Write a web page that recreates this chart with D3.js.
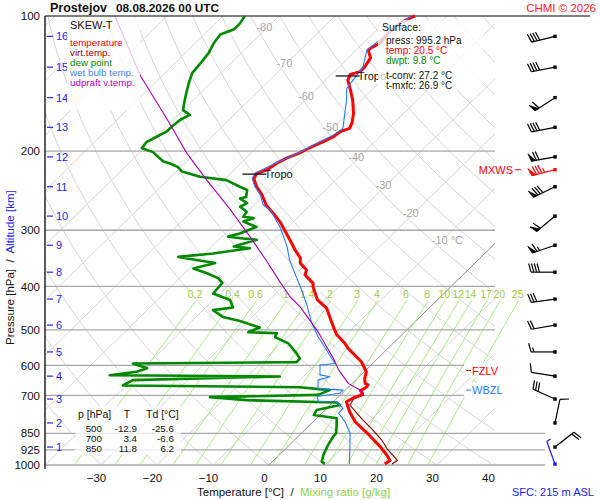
<!DOCTYPE html>
<html lang="en">
<head>
<meta charset="UTF-8">
<title>SKEW-T Prostejov</title>
<script src="https://d3js.org/d3.v7.min.js"></script>
<style>
  body { margin: 0; background: #fff; }
  svg { font-family: "Liberation Sans", Arial, sans-serif; }
  .iso { fill: none; stroke: #d6d6d6; stroke-width: 1; }
  .mix { fill: none; stroke: #a8ee80; stroke-width: 1; }
  .plev { stroke: #a8a8a8; stroke-width: 1.3; }
  .curve { fill: none; stroke-linejoin: round; }
  .pre { white-space: pre; }
</style>
</head>
<body>
<svg width="600" height="500"></svg>
<script>
// ---- data ----
const station = "Prostejov";
const dateLabel = "08.08.2026 00 UTC";

const pressureTicks = [100, 200, 300, 400, 500, 600, 700, 850, 925, 1000];
const tempTicks = [-30, -20, -10, 0, 10, 20, 30, 40];
const kmTicks = [1, 2, 3, 4, 5, 6, 7, 8, 9, 10, 11, 12, 13, 14, 15, 16];
const kmPressure = [912, 806, 713, 634, 560, 488, 427, 372, 324, 279, 240, 206, 177, 152, 130, 111];
const isothermLabels = [-80, -70, -60, -50, -40, -30, -20, -10];
const isothermLabelP = [106, 127, 151, 177, 206, 238, 275, 315];
const mixingRatios = [0.2, 0.4, 0.6, 1, 1.4, 2, 3, 4, 6, 8, 10, 12, 14, 17, 20, 25];

// [pressure hPa, value °C]
const temperature = [[995.2, 20.5], [977, 20.8], [950, 19.2], [910, 16.5], [850, 11.8], [801, 7.5], [761, 4.7],
  [723, 2.3], [710, 2.8], [698, 3.8], [690, 3.4], [683, 2.8], [672, 3.2], [663, 3.1], [658, 2.3], [641, 1.3],
  [620, 0.4], [589, -2.3], [550, -7.1], [536, -8.6], [513, -11.6], [500, -12.9], [480, -14.9], [448, -18.2],
  [429, -21.4], [401, -24.6], [394, -25.2], [377, -28.2], [368, -28.8], [355, -31.2], [346, -32.1], [332, -34.5],
  [321, -36.3], [302, -39.6], [287, -42.4], [275, -45.1], [264, -47.8], [250, -50.5], [240, -52.9], [230, -54.9],
  [224, -55.3], [220, -54.1], [213, -53.6], [207, -52.7], [202, -51.4], [197, -50.6], [192, -49.5], [189, -48.9],
  [186, -48.3], [181, -48.0], [178, -46.9], [173, -47.5], [165, -48.9], [154, -51.5], [146, -53.8], [139, -56.0],
  [135, -56.6], [133, -55.4], [130, -55.4], [124, -56.0], [119, -57.9], [117, -57.6], [115, -57.0], [112, -57.3],
  [108, -57.3], [104, -57.1], [101, -56.2], [100, -55.7]];

const virtTemp = [[995.2, 21.8], [977, 22.1], [918, 18.0], [880, 15.6], [836, 12.2], [794, 8.6], [766, 6.2],
  [735, 3.5], [713, 3.1], [698, 4.1], [690, 3.6], [683, 3.0]];

const dewPoint = [[995.2, 9.8], [983, 8.8], [950, 7.9], [903, 6.9], [865, 6.3], [850, 6.2], [822, 5.1], [787, 3.6],
  [781, 1.5], [774, -1.1], [754, -1.5], [735, 1.7], [726, 0.7], [717, -15.8], [706, -22.9], [698, -4.0],
  [681, -2.8], [671, -8.7], [665, -40.6], [647, -39.8], [635, -14.2], [631, -44.8], [620, -40.6], [609, -39.4],
  [594, -42.8], [590, -13.8], [579, -13.9], [564, -15.4], [536, -18.7], [519, -22.2], [509, -22.6], [506, -27.9],
  [494, -26.7], [478, -31.4], [468, -35.2], [452, -38.2], [446, -35.1], [429, -37.0], [415, -41.2], [393, -41.5],
  [384, -43.0], [374, -46.0], [365, -49.3], [355, -46.4], [344, -54.1], [338, -48.5], [329, -42.9], [326, -46.1],
  [315, -43.2], [313, -45.9], [310, -48.9], [305, -47.4], [295, -45.6], [287, -48.9], [282, -47.7], [280, -49.8],
  [273, -50.1], [266, -52.2], [261, -51.6], [255, -53.7], [253, -52.9], [244, -54.0], [240, -55.9], [232, -59.5],
  [228, -64.8], [222, -69.0], [217, -70.5], [213, -72.6], [211, -74.1], [206, -75.9], [201, -77.7], [197, -80.4],
  [191, -80.7], [186, -79.9], [181, -79.0], [176, -79.0], [170, -78.7], [166, -77.9], [162, -80.0], [154, -81.5],
  [148, -82.6], [141, -83.9], [134, -85.1], [126, -85.5], [121, -85.8], [115, -86.7], [110, -87.1], [107, -85.6],
  [104, -85.6], [100, -86.1]];

const wetBulb = [[995.2, 14.2], [910, 11.1], [850, 8.7], [801, 5.7], [767, 3.0], [748, 2.9], [723, 0.5], [722, -2.7],
  [704, -3.9], [692, -0.4], [681, -0.4], [675, -5.2], [647, -6.7], [636, -5.2], [630, -7.3], [599, -9.1],
  [594, -6.7], [579, -8.2], [555, -10.6], [518, -14.6], [480, -18.5], [440, -22.4], [408, -26.0], [381, -29.4],
  [350, -33.6], [326, -36.6], [310, -39.0], [295, -41.4], [270, -46.3], [264, -48.3], [250, -50.8], [240, -53.2],
  [230, -55.2], [224, -55.6], [213, -53.9], [202, -51.6], [192, -50.1], [184, -48.6], [178, -48.1], [168, -49.9],
  [154, -52.6], [145, -54.7], [130, -55.7], [119, -58.1], [100, -56.4]];

const updraft = [[695, 4.0], [681, 2.6], [658, -0.7], [614, -4.9], [579, -7.9], [500, -16.1], [444, -23.3],
  [422, -26.9], [391, -31.4], [350, -37.8], [310, -45.0], [270, -53.4], [232, -63.0], [202, -71.5], [170, -81.1],
  [136, -93.8], [100, -109.3]];

const tropoP = [225, 136];
const fzlvP = 616, wbzlP = 681, mxwsP = 220;

// winds: direction (deg), speed (kt) at surface, 1..16 km
const windP = [995.2, 912, 806, 713, 634, 560, 488, 427, 372, 324, 279, 240, 206, 177, 152, 130, 111];
const windDir = [340, 52, 12, 294, 279, 270, 260, 262, 270, 251, 230, 244, 260, 259, 237, 259, 256];
const windSpd = [5, 20, 10, 30, 10, 15, 20, 30, 40, 65, 60, 80, 70, 40, 60, 40, 40];
const mxwsDir = 256, mxwsSpd = 85;

const surfaceInfo = ["press: 995.2 hPa", "temp: 20.5 °C", "dwpt: 9.8 °C", "t-conv: 27.2 °C", "t-mxfc: 26.9 °C"];
const tableP = [500, 700, 850];
const tableT = [-12.9, 3.4, 11.8];
const tableTd = [-25.6, -6.6, 6.2];

// ---- scales ----
const svg = d3.select("svg");
svg.append("rect").attr("width", 600).attr("height", 500).attr("fill", "#fff");

const y = d3.scaleLog().domain([100, 1000]).range([16, 465]);
const xT = d3.scaleLinear().domain([-40, 40]).range([45, 493]);
const skew = 1.02;
const sx = (t, p) => xT(t) + skew * (y(1000) - y(p));

const line = d3.line().x(d => sx(d[1], d[0])).y(d => y(d[0]));

svg.append("defs").append("clipPath").attr("id", "plot")
  .append("rect").attr("x", 45).attr("y", 16).attr("width", 450).attr("height", 449);

// ---- background lines ----
const grid = svg.append("g").attr("clip-path", "url(#plot)");

d3.range(-160, 50, 10).forEach(t => {
  grid.append("line").attr("class", "iso")
    .attr("x1", sx(t, 1000)).attr("y1", y(1000))
    .attr("x2", sx(t, 100)).attr("y2", y(100))
    .style("stroke", t === 0 ? "#808080" : null)
    .style("stroke-width", t === 0 ? 0.9 : null);
});

const levels = d3.range(1000, 99, -10);
d3.range(-40, 221, 10).forEach(th => {
  const pts = levels.map(p => [p, (th + 273.15) * Math.pow(p / 1000, 0.2857) - 273.15]);
  grid.append("path").attr("class", "iso").attr("d", line(pts));
});

// mixing ratio lines
const tdFromMix = (w, p) => {
  const e = w * p / (622 + w);
  const l = Math.log(e / 6.112);
  return 243.5 * l / (17.67 - l);
};
const mixG = svg.append("g");
mixingRatios.forEach(w => {
  const pts = d3.range(1000, 429, -10).map(p => [p, tdFromMix(w, p)]);
  mixG.append("path").attr("class", "mix").attr("d", line(pts));
  mixG.append("text")
    .attr("x", sx(tdFromMix(w, 430), 430) - 1)
    .attr("y", y(430) - 2)
    .attr("text-anchor", "middle")
    .attr("font-size", 10.5)
    .attr("fill", "#9ccd3c")
    .text(w);
});

// pressure levels
pressureTicks.slice(1).forEach(p => {
  svg.append("line").attr("class", "plev")
    .attr("x1", 45).attr("x2", p >= 850 ? 545 : 495)
    .attr("y1", y(p)).attr("y2", y(p));
});
svg.append("line").attr("x1", 45).attr("x2", 590).attr("y1", y(100)).attr("y2", y(100))
  .attr("stroke", "#000").attr("stroke-width", 1.2);

// isotherm labels
isothermLabels.forEach((t, i) => {
  const p = isothermLabelP[i];
  svg.append("text")
    .attr("x", sx(t, p) - 11).attr("y", y(p) + 4)
    .attr("font-size", 11).attr("fill", "#a8a8a8")
    .text(t === -10 ? "-10 °C" : t);
});

// ---- axes ----
const yAxis = svg.append("g").attr("transform", "translate(45,0)")
  .call(d3.axisLeft(y).tickValues(pressureTicks).tickSize(0).tickPadding(5).tickFormat(d3.format("d")));
yAxis.select(".domain").attr("stroke", "#000").attr("stroke-width", 1.3).attr("d", "M0,16V469");
yAxis.selectAll("text").attr("font-size", 11.5).attr("fill", "#111").attr("font-family", "Liberation Sans, Arial");

const xLab = d3.scaleLinear().domain([-40, 40]).range([40, 488]);
const xAxis = svg.append("g").attr("transform", "translate(0,470)")
  .call(d3.axisBottom(xLab).tickValues(tempTicks).tickSize(0).tickPadding(4));
xAxis.select(".domain").remove();
xAxis.selectAll("text").attr("font-size", 11.5).attr("fill", "#111").attr("font-family", "Liberation Sans, Arial");

// altitude ticks
const kmG = svg.append("g");
kmTicks.forEach((k, i) => {
  const yy = y(kmPressure[i]);
  kmG.append("line").attr("x1", 47).attr("x2", 53).attr("y1", yy).attr("y2", yy)
    .attr("stroke", "#2222ff").attr("stroke-width", 1.2);
  kmG.append("text").attr("x", 56).attr("y", yy + 4)
    .attr("font-size", 11).attr("fill", "#2222ff").text(k);
});

// ---- curves ----
svg.append("path").datum(dewPoint).attr("class", "curve")
  .attr("stroke", "#008800").attr("stroke-width", 2.6).attr("d", line);
svg.append("path").datum(virtTemp).attr("class", "curve")
  .attr("stroke", "#8b0000").attr("stroke-width", 1.1).attr("d", line);
svg.append("path").datum(temperature).attr("class", "curve")
  .attr("stroke", "#ff0000").attr("stroke-width", 3).attr("d", line);
svg.append("path").datum(wetBulb).attr("class", "curve")
  .attr("stroke", "#2a78ff").attr("stroke-width", 1.1).attr("d", line);
svg.append("path").datum(updraft).attr("class", "curve")
  .attr("stroke", "#aa00aa").attr("stroke-width", 1.1).attr("d", line);

// tropopause marks
const tAt = p => {
  const i = d3.bisector(d => -d[0]).left(temperature, -p);
  const a = temperature[Math.max(0, i - 1)], b = temperature[Math.min(temperature.length - 1, i)];
  const f = a[0] === b[0] ? 0 : (a[0] - p) / (a[0] - b[0]);
  return a[1] + f * (b[1] - a[1]);
};
tropoP.forEach(p => {
  const xx = sx(tAt(p), p), yy = y(p);
  svg.append("line").attr("x1", xx - 14).attr("x2", xx + 10).attr("y1", yy).attr("y2", yy)
    .attr("stroke", "#000").attr("stroke-width", 1.2);
  svg.append("text").attr("x", xx + 8).attr("y", yy + 4).attr("font-size", 11).attr("fill", "#111").text("Tropo");
});

// ---- level markers on the right ----
const levelMark = (p, label, color, side) => {
  const yy = y(p);
  if (side === "right") {
    svg.append("rect").attr("x", 464).attr("y", yy - 7).attr("width", 44).attr("height", 14).attr("fill", "#fff");
    svg.append("line").attr("x1", 466).attr("x2", 471).attr("y1", yy).attr("y2", yy).attr("stroke", color);
    svg.append("text").attr("x", 472).attr("y", yy + 4).attr("font-size", 11).attr("fill", color).text(label);
  } else {
    svg.append("line").attr("x1", 515).attr("x2", 521).attr("y1", yy).attr("y2", yy).attr("stroke", color);
    svg.append("text").attr("x", 513).attr("y", yy + 4).attr("text-anchor", "end")
      .attr("font-size", 11).attr("fill", color).text(label);
  }
};
levelMark(fzlvP, "FZLV", "#ff0000", "right");
levelMark(wbzlP, "WBZL", "#2a78ff", "right");
levelMark(mxwsP, "MXWS", "#ff0000", "left");

// ---- wind barbs ----
const barbG = svg.append("g");
function barb(p, dir, spd, color) {
  const px = 555, py = y(p);
  const L = 24, fl = 9, gap = 2.8;
  const r = dir * Math.PI / 180;
  const ux = Math.sin(r), uy = -Math.cos(r);
  const a = 75 * Math.PI / 180;
  const fx = ux * Math.cos(a) - uy * Math.sin(a), fy = ux * Math.sin(a) + uy * Math.cos(a);
  const ex = px + L * ux, ey = py + L * uy;
  const g = barbG.append("g").attr("stroke", color).attr("fill", color).attr("stroke-width", 1.2);
  g.append("line").attr("x1", px).attr("y1", py).attr("x2", ex).attr("y2", ey);
  g.append("rect").attr("x", px - 1.7).attr("y", py - 1.7).attr("width", 3.4).attr("height", 3.4).attr("stroke", "none");
  let rem = Math.round(spd / 5) * 5, pos = 0;
  while (rem >= 50) {
    const x0 = ex - pos * ux, y0 = ey - pos * uy;
    const x1 = ex - (pos + 4) * ux, y1 = ey - (pos + 4) * uy;
    g.append("path").attr("stroke-width", 0.8)
      .attr("d", `M${x0},${y0}L${x0 + fx * 8},${y0 + fy * 8}L${x1},${y1}Z`);
    pos += 5; rem -= 50;
  }
  while (rem >= 10) {
    const x0 = ex - pos * ux, y0 = ey - pos * uy;
    g.append("line").attr("x1", x0).attr("y1", y0).attr("x2", x0 + fx * fl).attr("y2", y0 + fy * fl);
    pos += gap; rem -= 10;
  }
  if (rem >= 5) {
    const x0 = ex - pos * ux, y0 = ey - pos * uy;
    g.append("line").attr("x1", x0).attr("y1", y0).attr("x2", x0 + fx * fl / 2).attr("y2", y0 + fy * fl / 2);
  }
}
windP.forEach((p, i) => barb(p, windDir[i], windSpd[i], i === 0 ? "#1a1aee" : "#000"));
barb(mxwsP, mxwsDir, mxwsSpd, "#ff0000");

// ---- boxes ----
svg.append("rect").attr("x", 67).attr("y", 17).attr("width", 73).attr("height", 93)
  .attr("fill", "#fff").attr("fill-opacity", 0.75);
const legend = [["SKEW-T", "#111"], ["temperature", "#ff0000"], ["virt.temp.", "#a00000"],
  ["dew point", "#008800"], ["wet bulb temp.", "#3a88ff"], ["udpraft v.temp.", "#c000c0"]];
legend.forEach((d, i) => {
  svg.append("text").attr("x", 70).attr("y", i === 0 ? 29 : 36 + i * 10)
    .attr("font-size", i === 0 ? 11 : 9.8).attr("fill", d[1]).text(d[0]);
});

svg.append("rect").attr("x", 378).attr("y", 20).attr("width", 105).attr("height", 70)
  .attr("fill", "#fff").attr("fill-opacity", 0.75);
svg.append("text").attr("x", 382).attr("y", 31).attr("font-size", 10.5).attr("fill", "#111").text("Surface:");
const sfcY = [44, 54, 64, 79, 89];
const sfcC = ["#111", "#ff0000", "#008800", "#111", "#111"];
surfaceInfo.forEach((s, i) => {
  svg.append("text").attr("x", 386).attr("y", sfcY[i]).attr("font-size", 10).attr("fill", sfcC[i]).text(s);
});

svg.append("rect").attr("x", 75).attr("y", 406).attr("width", 106).attr("height", 49)
  .attr("fill", "#fff").attr("fill-opacity", 0.75);
const tbl = svg.append("g").attr("font-size", 9.8).attr("fill", "#111");
tbl.append("text").attr("x", 78).attr("y", 418).attr("font-size", 10.5).text("p [hPa]");
tbl.append("text").attr("x", 127).attr("y", 418).attr("font-size", 10.5).attr("text-anchor", "middle").text("T");
tbl.append("text").attr("x", 146).attr("y", 418).attr("font-size", 10.5).text("Td [°C]");
tableP.forEach((p, i) => {
  const yy = 432 + i * 10;
  tbl.append("text").attr("x", 102).attr("y", yy).attr("text-anchor", "end").text(p);
  tbl.append("text").attr("x", 137).attr("y", yy).attr("text-anchor", "end").text(tableT[i].toFixed(1));
  tbl.append("text").attr("x", 174).attr("y", yy).attr("text-anchor", "end").text(tableTd[i].toFixed(1));
});

// ---- titles ----
svg.append("text").attr("x", 50).attr("y", 12).attr("font-size", 12.5).attr("font-weight", "bold")
  .attr("fill", "#111").text(station);
svg.append("text").attr("x", 116).attr("y", 12).attr("font-size", 11.8).attr("font-weight", "bold")
  .attr("fill", "#111").text(dateLabel);
svg.append("text").attr("x", 596).attr("y", 12).attr("text-anchor", "end").attr("font-size", 11.5)
  .attr("fill", "#ff2020").text("CHMI © 2026");

const xt = svg.append("text").attr("class", "pre").attr("x", 197).attr("y", 496).attr("font-size", 11.5);
xt.append("tspan").attr("fill", "#111").text("Temperature [°C]  /  ");
xt.append("tspan").attr("fill", "#8fd048").text("Mixing ratio [g/kg]");

svg.append("text").attr("x", 512).attr("y", 496).attr("font-size", 11).attr("fill", "#2222ee").text("SFC: 215 m ASL");

const yt = svg.append("text").attr("class", "pre").attr("transform", "translate(14,345) rotate(-90)")
  .attr("font-size", 11.5);
yt.append("tspan").attr("fill", "#111").text("Pressure [hPa]  /  ");
yt.append("tspan").attr("fill", "#2222ee").text("Altitude [km]");
</script>
</body>
</html>
